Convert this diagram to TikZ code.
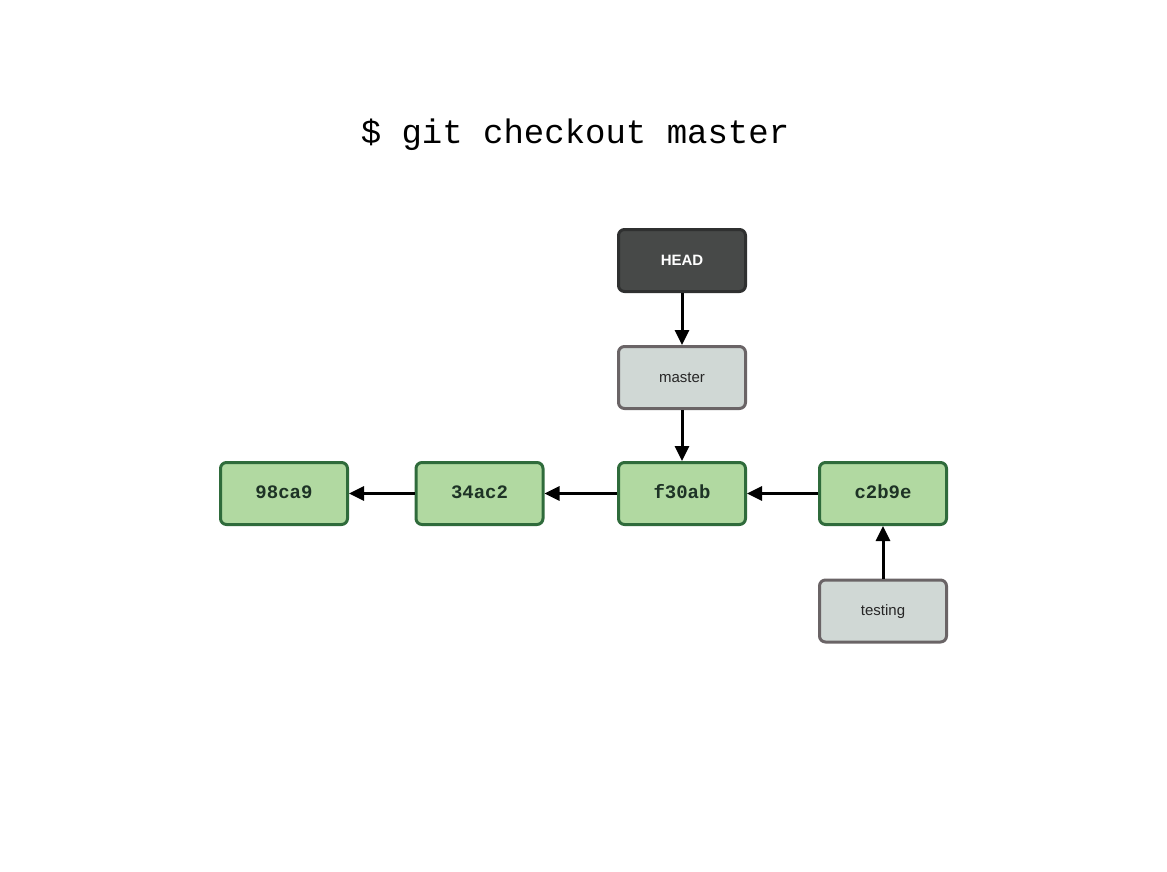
\documentclass[tikz,border=0pt]{standalone}
\usepackage{fontspec}
\setmainfont{Liberation Sans}
\newfontfamily\monofont{Liberation Mono}
\usetikzlibrary{arrows.meta}
\definecolor{cgreen}{HTML}{B1D9A1}
\definecolor{cgreenb}{HTML}{2F6B3B}
\definecolor{cgreent}{HTML}{1E3326}
\definecolor{cgray}{HTML}{D0D8D5}
\definecolor{cgrayb}{HTML}{6A6466}
\definecolor{chead}{HTML}{474948}
\definecolor{cheadb}{HTML}{2F3030}
\tikzset{
  box/.style={minimum width=127pt,minimum height=62pt,rounded corners=6pt,line width=3pt,inner sep=0pt,text height=0.93em,text depth=0pt},
  commit/.style={box,draw=cgreenb,fill=cgreen,text=cgreent,font=\monofont\fontsize{19}{19}\selectfont\bfseries},
  branch/.style={box,draw=cgrayb,fill=cgray,text=black!85,font=\fontsize{15}{15}\selectfont},
  headbox/.style={box,draw=cheadb,fill=chead,text=white,font=\fontsize{15}{15}\selectfont\bfseries},
  conn/.style={line width=3pt,-{Triangle[length=15pt,width=14pt]}}
}
\begin{document}
\begin{tikzpicture}[x=1pt,y=-1pt]
\useasboundingbox (0,0) rectangle (1167,872);
\node[anchor=base,font=\monofont\fontsize{34}{34}\selectfont] (title) at (575,143) {\$ git checkout master};
\node[headbox] (head) at (682,260.5) {HEAD};
\node[branch] (master) at (682,377.5) {master};
\node[commit] (c1) at (284,493.5) {98ca9};
\node[commit] (c2) at (479.5,493.5) {34ac2};
\node[commit] (c3) at (682,493.5) {f30ab};
\node[commit] (c4) at (883,493.5) {c2b9e};
\node[branch] (testing) at (883,611) {testing};
\draw[conn] (head) -- (master);
\draw[conn] (master) -- (c3);
\draw[conn] (c2) -- (c1);
\draw[conn] (c3) -- (c2);
\draw[conn] (c4) -- (c3);
\draw[conn] (testing) -- (c4);
\end{tikzpicture}
\end{document}
